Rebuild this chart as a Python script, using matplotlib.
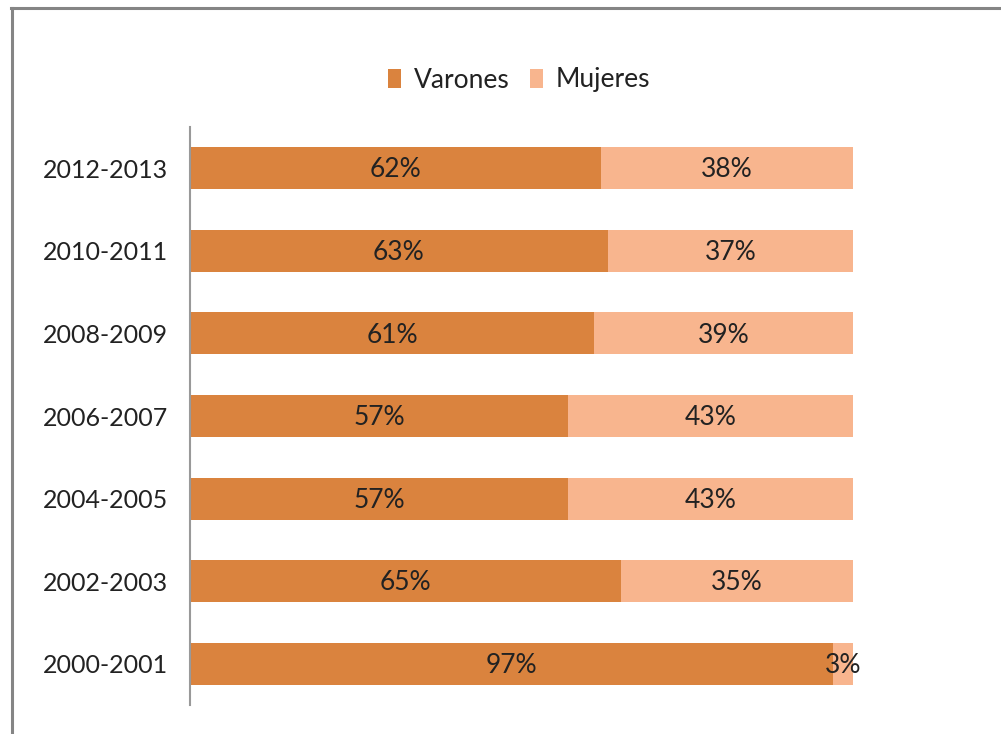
import matplotlib
matplotlib.use("Agg")
import matplotlib.pyplot as plt
from matplotlib.patches import Patch
from matplotlib.lines import Line2D

periods = ["2000-2001", "2002-2003", "2004-2005", "2006-2007", "2008-2009", "2010-2011", "2012-2013"]
varones = [97, 65, 57, 57, 61, 63, 62]
mujeres = [3, 35, 43, 43, 39, 37, 38]
series_names = ["Varones", "Mujeres"]
colors = ["#DA833E", "#F8B58E"]

plt.rcParams['font.family'] = ['Lato', 'DejaVu Sans']

W, H = 1001, 734
fig = plt.figure(figsize=(W/100, H/100), dpi=100)
ax = fig.add_axes([190/W, 1-705/H, (853-190)/W, (705-127)/H])

y = list(range(len(periods)))
ax.barh(y, varones, height=0.51, color=colors[0], label=series_names[0])
ax.barh(y, mujeres, left=varones, height=0.51, color=colors[1], label=series_names[1])

for i in range(len(periods)):
    ax.text(varones[i]/2, y[i] - 0.02, f"{varones[i]}%", ha='center', va='center', fontsize=19, color='#222222')
    ax.text(varones[i] + mujeres[i]/2, y[i] - 0.02, f"{mujeres[i]}%", ha='center', va='center', fontsize=19, color='#222222')

ax.set_xlim(0, 100)
ax.set_ylim(-0.5, len(periods)-0.5)
ax.set_yticks(y)
ax.set_yticklabels(periods, fontsize=18, color='#222222')
ax.tick_params(axis='y', length=0, pad=16)
ax.set_xticks([])
for s in ['top', 'right', 'bottom']:
    ax.spines[s].set_visible(False)
ax.spines['left'].set_color('#999999')
ax.spines['left'].set_linewidth(1.5)

handles = [Patch(facecolor=colors[0]), Patch(facecolor=colors[1])]
fig.legend(handles, series_names, loc='center', bbox_to_anchor=(519/W, 1-80/H), ncol=2,
           frameon=False, fontsize=19, handlelength=0.5, handleheight=0.75, handletextpad=0.5,
           columnspacing=0.75, labelcolor='#222222')

# outer frame (gray border left and top)
fig.add_artist(Line2D([11.5/W, 11.5/W], [0, 1-8/H], transform=fig.transFigure, color='#858585', lw=2.2))
fig.add_artist(Line2D([10.5/W, 1], [1-8/H, 1-8/H], transform=fig.transFigure, color='#858585', lw=2.2))

fig.savefig("out.png", dpi=100)
